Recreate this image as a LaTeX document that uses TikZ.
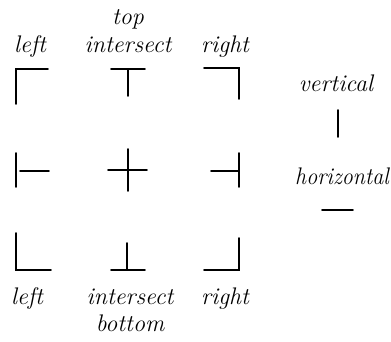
\documentclass[tikz,border=0pt]{standalone}
\usepackage{fontspec}
\begin{document}
\begin{tikzpicture}[x=1pt,y=-1pt,
  lbl/.style={font=\fontsize{24}{26}\selectfont\itshape, inner sep=0pt, anchor=base},
  stroke/.style={line width=1.7pt, line cap=round, black}]
\useasboundingbox (0,0) rectangle (391,341);
% labels
\node[lbl] (tl) at (30,52) {left};
\node[lbl] (tt) at (128,24) {top};
\node[lbl] (ti) at (128,52) {intersect};
\node[lbl] (tr) at (225,52) {right};
\node[lbl] (bl) at (27,304) {left};
\node[lbl] (bi) at (130,304) {intersect};
\node[lbl] (br) at (225,304) {right};
\node[lbl] (bb) at (130,331) {bottom};
\node[lbl] (vv) at (336,91) {vertical};
\node[lbl, anchor=base east, xscale=0.92] (hh) at (389,184) {horizontal};
% top row
\draw[stroke] (16,104) -- (16,69) -- (48,69);
\draw[stroke] (111,69) -- (145,69);
\draw[stroke] (128,69) -- (128,96);
\draw[stroke] (204,68) -- (239,68) -- (239,99);
% middle row
\draw[stroke] (16,153) -- (16,187);
\draw[stroke] (20,171) -- (49,171);
\draw[stroke] (108,170) -- (147,170);
\draw[stroke] (128,149) -- (128,191);
\draw[stroke] (211,171) -- (239,171);
\draw[stroke] (239,153) -- (239,187);
% bottom row
\draw[stroke] (16,233) -- (16,270) -- (51,270);
\draw[stroke] (127,243) -- (127,270);
\draw[stroke] (111,270) -- (145,270);
\draw[stroke] (204,270) -- (239,270) -- (239,238);
% right column
\draw[stroke] (338,110) -- (338,137);
\draw[stroke] (322,210) -- (353,210);
\end{tikzpicture}
\end{document}
